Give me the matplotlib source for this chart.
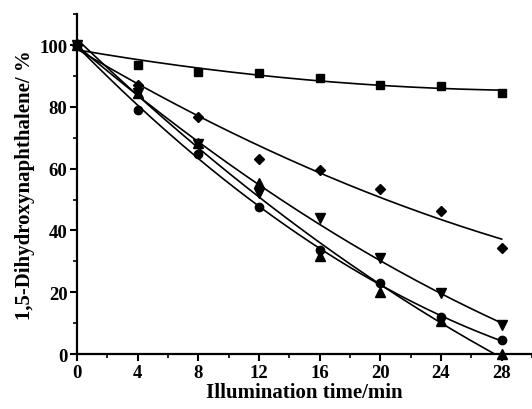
import matplotlib
matplotlib.use('Agg')
import matplotlib.pyplot as plt
import numpy as np
from matplotlib.ticker import MultipleLocator

plt.rcParams['font.family'] = ['Liberation Serif', 'DejaVu Serif']
plt.rcParams['font.weight'] = 'bold'

# Données
temps = [0, 4, 8, 12, 16, 20, 24, 28]
carres = [100, 93.6, 91.2, 90.9, 89.2, 87.1, 86.8, 84.5]
losanges = [100, 87.1, 76.8, 63.1, 59.6, 53.4, 46.4, 34.2]
triangles_haut = [100, 84.5, 68.2, 55.3, 31.6, 20.0, 10.8, 0.0]
triangles_bas = [100, 84.4, 68.0, 52.1, 44.0, 31.1, 19.6, 9.4]
cercles = [100, 79.1, 64.7, 47.5, 33.7, 23.0, 11.9, 4.4]

series = [(carres, 's', 6), (losanges, 'D', 5.5), (triangles_haut, '^', 6.5),
          (triangles_bas, 'v', 6.5), (cercles, 'o', 6)]

fig = plt.figure(figsize=(5.32, 4.10), dpi=100)
ax = fig.add_axes([0.145, 0.134, 0.855, 0.829])

t = np.array(temps, dtype=float)
tt = np.linspace(0, 28, 200)
for valeurs, marqueur, taille in series:
    ax.plot(temps, valeurs, linestyle='none', marker=marqueur, markersize=taille,
            color='black', clip_on=False, zorder=3)
    # courbe d'ajustement (polynôme du 2e degré)
    coef = np.polyfit(t, np.array(valeurs), 2)
    ax.plot(tt, np.polyval(coef, tt), color='black', linewidth=1.2)

ax.set_xlim(0, 30)
ax.set_ylim(0, 110)
ax.xaxis.set_major_locator(MultipleLocator(4))
ax.xaxis.set_minor_locator(MultipleLocator(2))
ax.yaxis.set_major_locator(MultipleLocator(20))
ax.yaxis.set_minor_locator(MultipleLocator(10))
ax.set_xticks([0, 4, 8, 12, 16, 20, 24, 28])

for cote in ['top', 'right']:
    ax.spines[cote].set_visible(False)
for cote in ['left', 'bottom']:
    ax.spines[cote].set_linewidth(1.6)

ax.tick_params(which='major', direction='out', length=5, width=1.5, labelsize=13.5, pad=2)
ax.tick_params(which='minor', direction='out', length=3, width=1.2)

ax.set_xlabel('Illumination time/min', fontsize=15, fontweight='bold', labelpad=1)
ax.set_ylabel('1,5-Dihydroxynaphthalene/ %', fontsize=15, fontweight='bold', labelpad=3)

fig.savefig('out.png', dpi=100)
